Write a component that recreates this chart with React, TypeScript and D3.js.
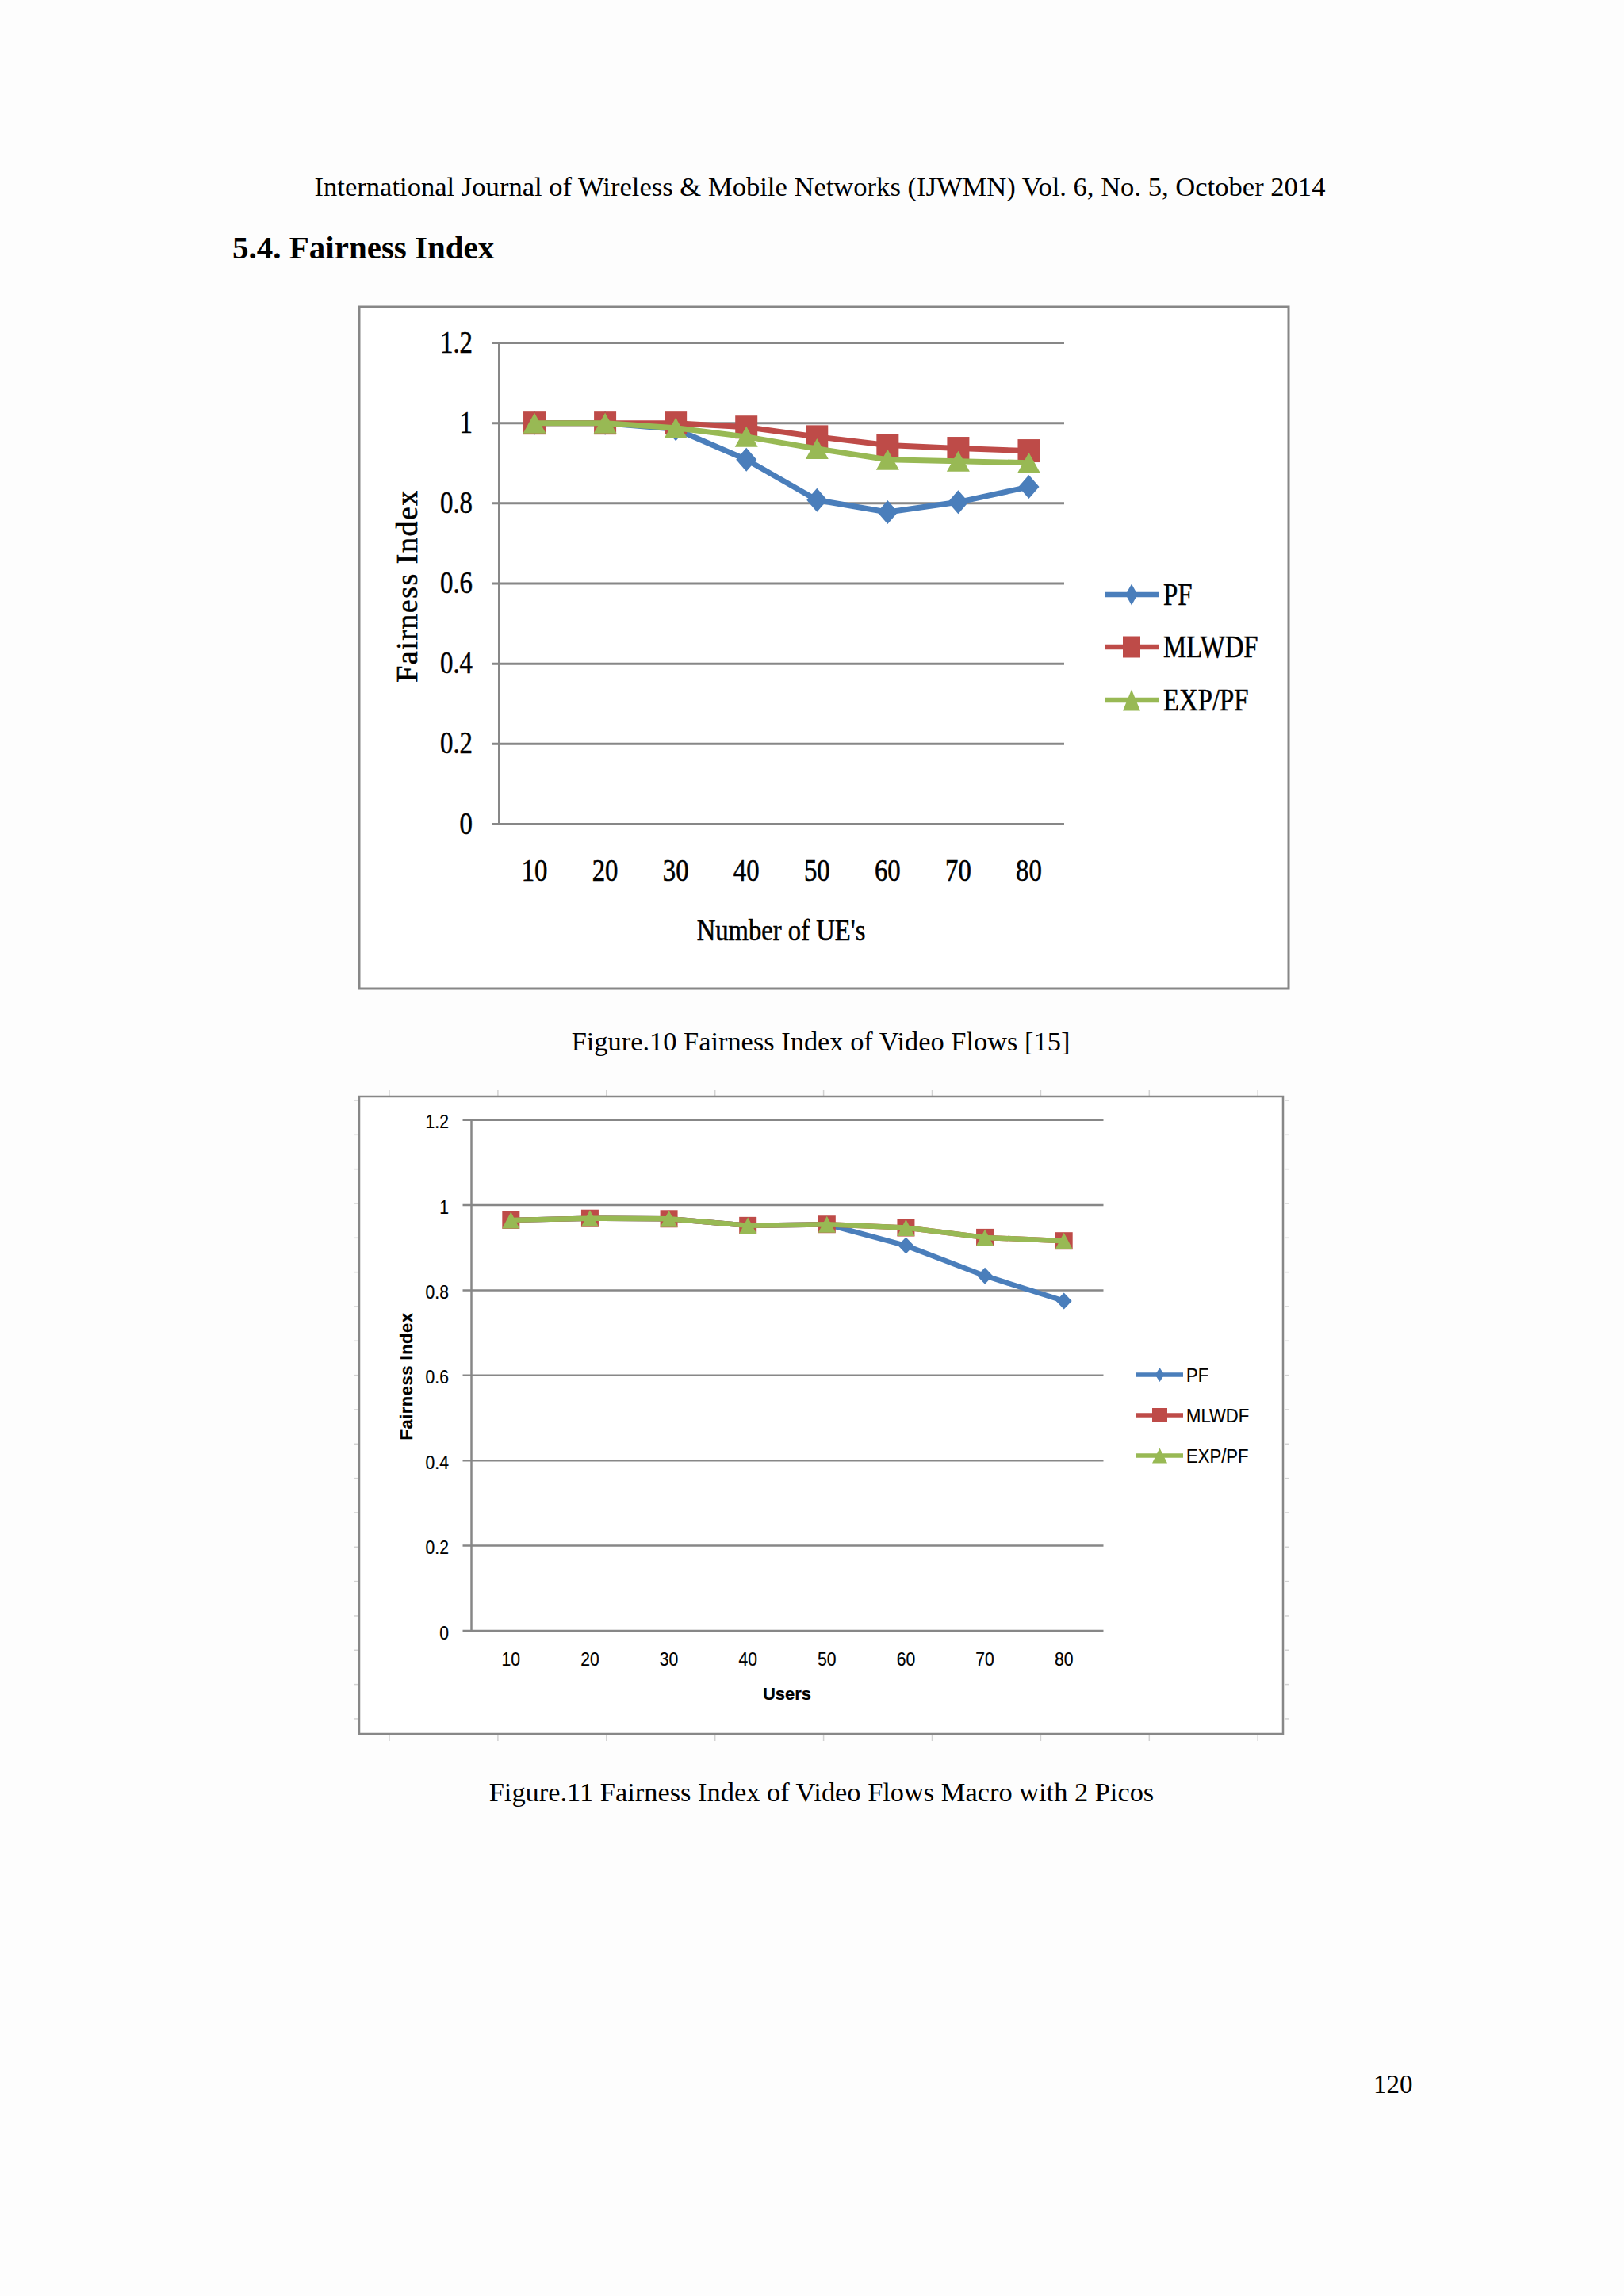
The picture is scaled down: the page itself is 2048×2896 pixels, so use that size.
import React from "react";
import * as d3 from "d3";

// number of users on the x axis (both figures)
const users = ["10", "20", "30", "40", "50", "60", "70", "80"];
const seriesNames = ["PF", "MLWDF", "EXP/PF"];
const seriesColors = ["#4a7ebb", "#be4b48", "#98b954"];
const markerKinds = ["diamond", "square", "triangle"];
const yTicks = [0, 0.2, 0.4, 0.6, 0.8, 1, 1.2];

// Figure.10 Fairness Index of Video Flows
const fig10PF = [1.0, 1.0, 0.985, 0.909, 0.808, 0.778, 0.803, 0.841];
const fig10MLWDF = [1.0, 1.0, 1.0, 0.99, 0.966, 0.945, 0.937, 0.931];
const fig10EXP = [1.0, 1.0, 0.988, 0.966, 0.936, 0.909, 0.905, 0.901];

// Figure.11 Fairness Index of Video Flows Macro with 2 Picos
const fig11PF = [0.965, 0.969, 0.968, 0.952, 0.955, 0.905, 0.834, 0.775];
const fig11MLWDF = [0.965, 0.969, 0.968, 0.952, 0.955, 0.947, 0.924, 0.916];
const fig11EXP = [0.965, 0.969, 0.968, 0.952, 0.955, 0.947, 0.924, 0.916];

const GRID = "#878787";

// marker outline, w = half width, h = half height
const markerPath = (kind, w, h) => {
  if (kind === "diamond") return `M0,${-h}L${w},0L0,${h}L${-w},0Z`;
  if (kind === "square") return `M${-w},${-h}H${w}V${h}H${-w}Z`;
  return `M0,${-h}L${w},${h}L${-w},${h}Z`;
};

const Chart = ({ cfg, series }) => {
  const x = d3.scaleBand().domain(users).range([cfg.left, cfg.right]).padding(0);
  const y = d3.scaleLinear().domain([0, 1.2]).range([cfg.bottom, cfg.top]);
  const line = d3
    .line()
    .x((d, i) => x(users[i]) + x.bandwidth() / 2)
    .y((d) => y(d));

  const txt = (t, px, py, o = {}) => (
    <text
      transform={`translate(${px},${py}) scale(${o.sx ?? cfg.sx},1)${o.rot ? " rotate(-90)" : ""}`}
      textAnchor={o.anchor ?? "middle"}
      fontFamily={cfg.font}
      fontSize={o.size ?? cfg.fontSize}
      fontWeight={o.bold ? "bold" : "normal"}
      letterSpacing={o.ls ?? 0}
      fill="#000"
      stroke="#000"
      strokeWidth={cfg.textStroke}
    >
      {t}
    </text>
  );

  return (
    <g>
      <rect
        x={cfg.box[0]}
        y={cfg.box[1]}
        width={cfg.box[2]}
        height={cfg.box[3]}
        fill="#fff"
        stroke={GRID}
        strokeWidth={cfg.boxStroke}
      />
      {yTicks.map((t) => (
        <g key={t}>
          <line
            x1={cfg.tickLeft}
            x2={cfg.right}
            y1={y(t)}
            y2={y(t)}
            stroke={GRID}
            strokeWidth={cfg.gridStroke}
          />
          {txt(String(t), cfg.yLabelX, y(t) + cfg.yLabelDy, { anchor: "end" })}
        </g>
      ))}
      <line
        x1={cfg.left}
        x2={cfg.left}
        y1={cfg.top}
        y2={cfg.bottom}
        stroke={GRID}
        strokeWidth={cfg.gridStroke}
      />
      {users.map((u) => (
        <g key={u}>{txt(u, x(u) + x.bandwidth() / 2, cfg.xLabelY)}</g>
      ))}
      {txt(cfg.xTitle, cfg.xTitlePos[0], cfg.xTitlePos[1], {
        sx: cfg.xTitleSx,
        size: cfg.titleSize,
        bold: cfg.titleBold,
      })}
      {txt("Fairness Index", cfg.yTitlePos[0], cfg.yTitlePos[1], {
        sx: 1,
        rot: true,
        size: cfg.titleSize,
        bold: cfg.titleBold,
        ls: cfg.yTitleLs,
      })}

      {series.map((vals, si) => (
        <g key={si}>
          <path
            d={line(vals)}
            fill="none"
            stroke={seriesColors[si]}
            strokeWidth={cfg.lineW}
            strokeLinejoin="round"
          />
          {vals.map((v, i) => (
            <path
              key={i}
              transform={`translate(${x(users[i]) + x.bandwidth() / 2},${y(v)})`}
              d={markerPath(markerKinds[si], ...cfg.marker[si])}
              fill={seriesColors[si]}
            />
          ))}
        </g>
      ))}

      {seriesNames.map((name, si) => {
        const ly = cfg.legendY[si];
        const [lx0, lx1] = cfg.legendLine;
        return (
          <g key={name}>
            <line
              x1={lx0}
              x2={lx1}
              y1={ly}
              y2={ly}
              stroke={seriesColors[si]}
              strokeWidth={cfg.legendLineW}
            />
            <path
              transform={`translate(${(lx0 + lx1) / 2},${ly})`}
              d={markerPath(markerKinds[si], ...cfg.legendMarker[si])}
              fill={seriesColors[si]}
            />
            {txt(name, cfg.legendTextX, ly + cfg.legendDy, {
              anchor: "start",
              size: cfg.legendSize,
            })}
          </g>
        );
      })}
    </g>
  );
};

const fig10Cfg = {
  box: [453, 387, 1172, 860],
  boxStroke: 3,
  left: 629.5,
  right: 1342,
  top: 432.5,
  bottom: 1039.5,
  tickLeft: 620,
  gridStroke: 3,
  font: "'Liberation Serif', 'DejaVu Serif', serif",
  fontSize: 40,
  sx: 0.82,
  textStroke: 0.6,
  yLabelX: 596,
  yLabelDy: 12,
  xLabelY: 1111,
  xTitle: "Number of UE's",
  xTitlePos: [985, 1186],
  xTitleSx: 0.86,
  titleSize: 38,
  titleBold: false,
  yTitlePos: [526, 739],
  yTitleLs: 1.5,
  lineW: 7,
  marker: [
    [13, 15],
    [14, 14.5],
    [14.5, 13],
  ],
  legendLine: [1393, 1461],
  legendY: [750, 816, 883],
  legendLineW: 6.5,
  legendMarker: [
    [7.5, 13.5],
    [11, 13.5],
    [11, 13.5],
  ],
  legendTextX: 1467,
  legendDy: 13,
  legendSize: 40,
};

const fig11Cfg = {
  box: [453, 1383, 1165, 804],
  boxStroke: 2.5,
  left: 594.5,
  right: 1391.5,
  top: 1412.7,
  bottom: 2057,
  tickLeft: 583.5,
  gridStroke: 2.5,
  font: "'Liberation Sans', Arial, sans-serif",
  fontSize: 23,
  sx: 0.92,
  textStroke: 0.2,
  yLabelX: 566,
  yLabelDy: 10.5,
  xLabelY: 2101,
  xTitle: "Users",
  xTitlePos: [992.5, 2144],
  xTitleSx: 1,
  titleSize: 22,
  titleBold: true,
  yTitlePos: [520, 1736],
  yTitleLs: 0.5,
  lineW: 6.5,
  marker: [
    [10, 10.5],
    [11, 11],
    [11, 10.5],
  ],
  legendLine: [1433, 1492],
  legendY: [1734, 1785, 1836],
  legendLineW: 5.5,
  legendMarker: [
    [5.7, 9],
    [9.5, 9],
    [9.5, 9.5],
  ],
  legendTextX: 1496,
  legendDy: 8.5,
  legendSize: 24,
};

// faint spreadsheet cell borders showing around the pasted figure 11
const cellCols = d3.range(9).map((k) => 491 + k * 136.9);
const cellRows = d3.range(19).map((k) => 1388 + k * 43.33);

export default function App() {
  const serif = "'Liberation Serif', 'DejaVu Serif', serif";
  return (
    <div style={{ position: "absolute", left: 0, top: 0 }}>
      <svg width={2048} height={2896} style={{ display: "block" }}>
        <rect width={2048} height={2896} fill="#fdfdfd" />
        <text x={1034} y={247} textAnchor="middle" fontFamily={serif} fontSize={34.6}>
          International Journal of Wireless &amp; Mobile Networks (IJWMN) Vol. 6, No. 5, October 2014
        </text>
        <text x={293} y={326} fontFamily={serif} fontSize={41} fontWeight="bold">
          5.4. Fairness Index
        </text>

        <Chart cfg={fig10Cfg} series={[fig10PF, fig10MLWDF, fig10EXP]} />
        <text x={1035} y={1325} textAnchor="middle" fontFamily={serif} fontSize={34.4}>
          Figure.10 Fairness Index of Video Flows [15]
        </text>

        <g stroke="#d2d2d2" strokeWidth={1.5}>
          {cellCols.map((cx) => (
            <g key={cx}>
              <line x1={cx} x2={cx} y1={1375} y2={1382} />
              <line x1={cx} x2={cx} y1={2189} y2={2196} />
            </g>
          ))}
          {cellRows.map((cy) => (
            <g key={cy}>
              <line x1={446} x2={452} y1={cy} y2={cy} />
              <line x1={1620} x2={1626} y1={cy} y2={cy} />
            </g>
          ))}
        </g>
        <Chart cfg={fig11Cfg} series={[fig11PF, fig11MLWDF, fig11EXP]} />
        <text x={1036} y={2272} textAnchor="middle" fontFamily={serif} fontSize={34.4}>
          Figure.11 Fairness Index of Video Flows Macro with 2 Picos
        </text>

        <text x={1732} y={2640} fontFamily={serif} fontSize={33}>
          120
        </text>
      </svg>
    </div>
  );
}
